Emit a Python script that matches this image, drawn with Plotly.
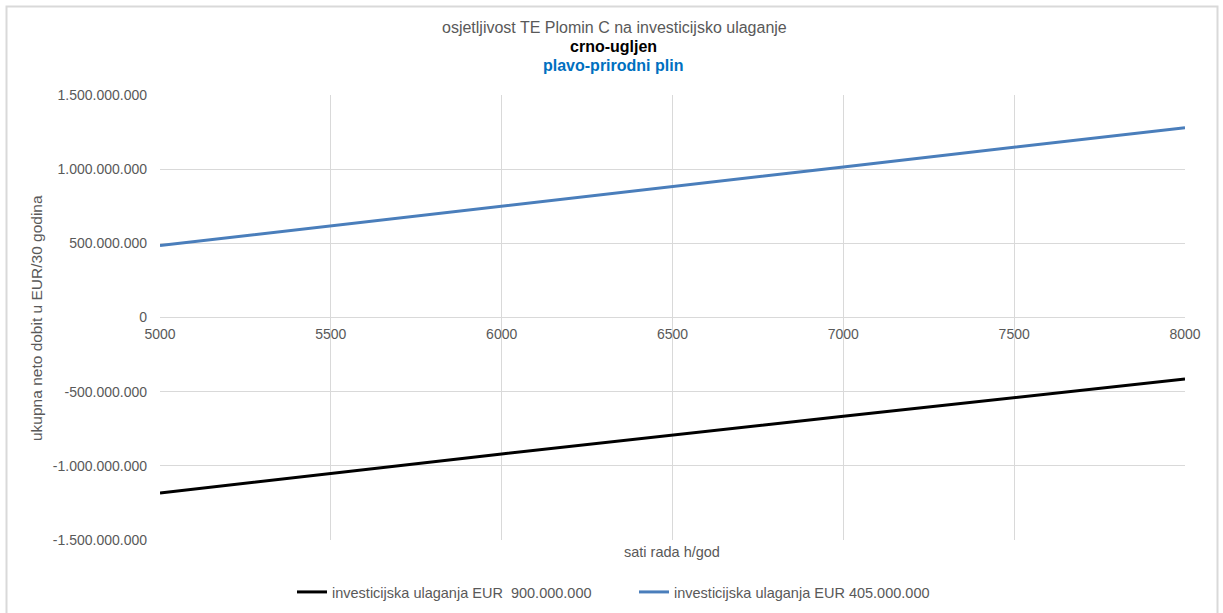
import plotly.graph_objects as go

# Data
hours = [5000, 6000, 7000, 8000]
coal_900m = [-1183000000, -920000000, -665000000, -415000000]
gas_405m = [485000000, 752000000, 1015000000, 1280000000]

name_coal = "investicijska ulaganja EUR&nbsp; 900.000.000"
name_gas = "investicijska ulaganja EUR 405.000.000"

y_tickvals = [-1500000000, -1000000000, -500000000, 0, 500000000, 1000000000, 1500000000]
y_ticktext = ["-1.500.000.000", "-1.000.000.000", "-500.000.000", "0",
              "500.000.000", "1.000.000.000", "1.500.000.000"]
x_tickvals = [5000, 5500, 6000, 6500, 7000, 7500, 8000]

title_l1 = "osjetljivost TE Plomin C na investicijsko ulaganje"
title_l2 = "crno-ugljen"
title_l3 = "plavo-prirodni plin"
x_title = "sati rada h/god"
y_title = "ukupna neto dobit u EUR/30 godina"

W, H = 1223, 613
L, R, T, B = 160, 38, 95, 73
pw = W - L - R
ph = H - T - B


def py(p):
    """pixel row -> paper y"""
    return (H - B - p) / ph


def px(p):
    return (p - L) / pw


fig = go.Figure()
fig.add_trace(go.Scatter(x=hours, y=coal_900m, mode="lines", name=name_coal,
                         line=dict(color="#000000", width=3)))
fig.add_trace(go.Scatter(x=hours, y=gas_405m, mode="lines", name=name_gas,
                         line=dict(color="#4a7ebb", width=3)))

font = "Liberation Sans, Arial, sans-serif"
grey = "#595959"
fig.update_layout(
    width=W, height=H,
    margin=dict(l=L, r=R, t=T, b=B, autoexpand=False),
    paper_bgcolor="white", plot_bgcolor="white",
    font=dict(family=font, size=14, color=grey),
    showlegend=True,
    legend=dict(orientation="h", xref="container", yref="container",
                x=(292) / W, xanchor="left", y=1 - 592 / H, yanchor="middle",
                font=dict(family=font, size=14.5, color=grey),
                itemwidth=30, tracegroupgap=0,
                entrywidth=297, entrywidthmode="pixels"),
    xaxis=dict(range=[5000, 8000], tickvals=x_tickvals,
               showgrid=True, gridcolor="#d9d9d9", gridwidth=1,
               zeroline=False, showline=False,
               anchor="free", position=0.5,
               ticks="", ticklabelstandoff=6,
               tickfont=dict(family=font, size=14, color=grey)),
    yaxis=dict(range=[-1500000000, 1500000000],
               tickvals=y_tickvals, ticktext=y_ticktext,
               showgrid=True, gridcolor="#d9d9d9", gridwidth=1,
               zeroline=True, zerolinecolor="#d9d9d9", zerolinewidth=1,
               showline=False, ticks="", ticklabelstandoff=12,
               tickfont=dict(family=font, size=14, color=grey)),
    annotations=[
        dict(text=title_l1, xref="paper", yref="paper", x=px(614), y=py(28),
             xanchor="center", yanchor="middle", showarrow=False,
             font=dict(family=font, size=16, color=grey)),
        dict(text=f"<b>{title_l2}</b>", xref="paper", yref="paper", x=px(613), y=py(47),
             xanchor="center", yanchor="middle", showarrow=False,
             font=dict(family=font, size=16, color="#000000")),
        dict(text=f"<b>{title_l3}</b>", xref="paper", yref="paper", x=px(613), y=py(65),
             xanchor="center", yanchor="middle", showarrow=False,
             font=dict(family=font, size=16, color="#0070C0")),
        dict(text=x_title, xref="paper", yref="paper", x=px(672), y=py(552),
             xanchor="center", yanchor="middle", showarrow=False,
             font=dict(family=font, size=14.5, color=grey)),
        dict(text=y_title, xref="paper", yref="paper", x=px(36), y=py(318),
             xanchor="center", yanchor="middle", textangle=-90,
             showarrow=False, font=dict(family=font, size=15.5, color=grey)),
    ],
    shapes=[
        dict(type="rect", xref="paper", yref="paper",
             x0=px(6.5), x1=px(1217.5), y0=py(640), y1=py(6.5),
             line=dict(color="#d9d9d9", width=2), fillcolor="rgba(0,0,0,0)",
             layer="below"),
    ],
)

fig.write_html("out.html",
               config={"displayModeBar": False},
               post_script="document.body.style.margin='0';document.body.style.overflow='hidden';")
